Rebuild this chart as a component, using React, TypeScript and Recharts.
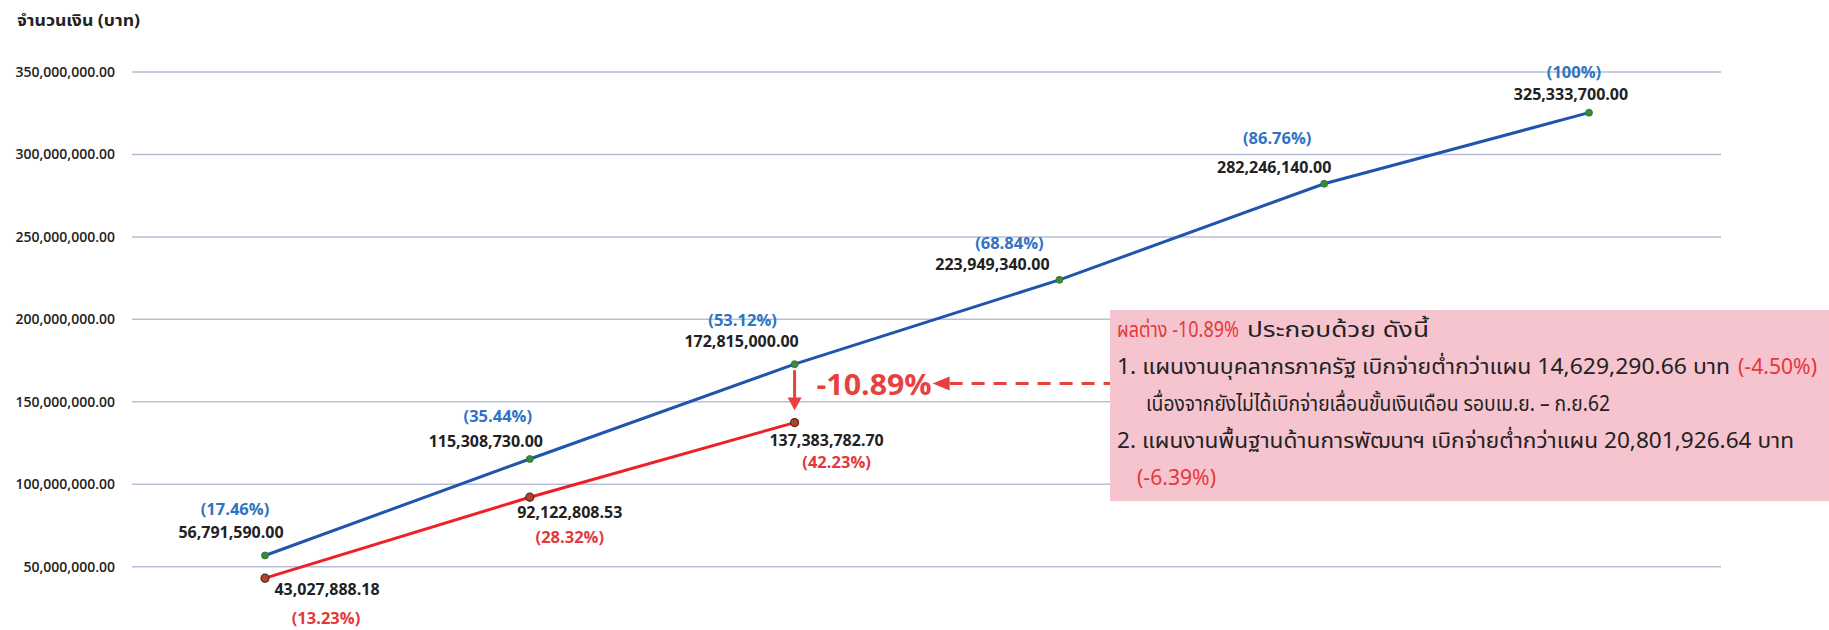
import React from 'react';
import { LineChart, Line, XAxis, YAxis, CartesianGrid, LabelList, ReferenceLine } from 'recharts';

const periods = ['1', '2', '3', '4', '5', '6'];
const planValues = [56791590.0, 115308730.0, 172815000.0, 223949340.0, 282246140.0, 325333700.0];
const planPercents = ['(17.46%)', '(35.44%)', '(53.12%)', '(68.84%)', '(86.76%)', '(100%)'];
const actualValues = [43027888.18, 92122808.53, 137383782.7];
const actualPercents = ['(13.23%)', '(28.32%)', '(42.23%)'];
const yTicks = [50000000, 100000000, 150000000, 200000000, 250000000, 300000000, 350000000];
const diffLabel = '-10.89%';

const data = periods.map((p, i) => ({
  period: p,
  plan: planValues[i],
  actual: i < actualValues.length ? actualValues[i] : null,
}));

// label layout offsets (px) relative to each point: [valueDx, valueDy, pctDx, pctDy]
const planLabelPos = [
  [-34, -23, -30, -47],
  [-44, -18, -32, -43],
  [-53, -23, -52, -45],
  [-67, -16, -50, -37],
  [-50, -17, -47, -46],
  [-18, -19, -15, -41],
];
const actualLabelPos = [
  [62, 11, 61, 39],
  [40, 15, 40, 39],
  [32, 17, 42, 39],
];

const FONT = "'Open Sans', 'Noto Sans', sans-serif";
const THAI = "'Noto Sans', 'Noto Sans Thai', 'Loma', 'Garuda', 'Norasi', sans-serif";
const BLUE = '#1f55ad';
const RED = '#ee2027';
const PCT_BLUE = '#2f73c2';
const PCT_RED = '#e5383b';
const ANN_RED = '#e8403f';
const BOX_LEFT = 1110;

const fmt = (v: number) =>
  v.toLocaleString('en-US', { minimumFractionDigits: 2, maximumFractionDigits: 2 });

const makeLabel = (pos: number[][], pcts: string[], pctColor: string) => (props: any) => {
  const { x, y, value, index } = props;
  if (value == null || x == null || y == null) return null;
  const o = pos[index];
  return (
    <g>
      <text x={x + o[0]} y={y + o[1]} textAnchor="middle" dominantBaseline="central"
        fontFamily={FONT} fontWeight={700} fontSize={16} fill="#222">{fmt(value)}</text>
      <text x={x + o[2]} y={y + o[3]} textAnchor="middle" dominantBaseline="central"
        fontFamily={FONT} fontWeight={700} fontSize={16.5} fill={pctColor}>{pcts[index]}</text>
    </g>
  );
};

const DiffArrow = (p: any) => {
  const { x1, y1, y2 } = p;
  const top = Math.min(y1, y2);
  const bottom = Math.max(y1, y2);
  const tip = bottom - 12;
  const ty = (top + bottom) / 2 - 10;
  const hx = x1 + 138;
  return (
    <g>
      <line x1={x1} y1={top + 6} x2={x1} y2={tip - 10} stroke={ANN_RED} strokeWidth={3} />
      <polygon points={`${x1 - 7},${tip - 13} ${x1 + 7},${tip - 13} ${x1},${tip}`} fill={ANN_RED} />
      <text x={x1 + 22} y={ty} dominantBaseline="central" fontFamily={FONT} fontWeight={700}
        fontSize={29} fill={ANN_RED} textLength={115} lengthAdjust="spacingAndGlyphs">{diffLabel}</text>
      <polygon points={`${hx},${ty} ${hx + 17},${ty - 7} ${hx + 17},${ty + 7}`} fill={ANN_RED} />
      <line x1={hx + 17} y1={ty} x2={BOX_LEFT} y2={ty} stroke={ANN_RED} strokeWidth={3}
        strokeDasharray="13 9" />
    </g>
  );
};

const PlanDot = (props: any) => {
  const { cx, cy } = props;
  if (cx == null || cy == null) return null;
  return <circle cx={cx} cy={cy} r={3.5} fill="#3a8c3a" stroke="#2c6e2c" strokeWidth={0.8} />;
};
const ActualDot = (props: any) => {
  const { cx, cy, value } = props;
  if (cx == null || cy == null || value == null) return null;
  return <circle cx={cx} cy={cy} r={4} fill="#b5402f" stroke="#4a2a20" strokeWidth={1.2} />;
};

const boxLines = [
  { y: 337, parts: [
    { t: 'ผลต่าง -10.89%', x: 1117, w: 122, c: PCT_RED },
    { t: 'ประกอบด้วย ดังนี้', x: 1247, w: 182, c: '#222' },
  ] },
  { y: 374, parts: [
    { t: '1. แผนงานบุคลากรภาครัฐ เบิกจ่ายต่ำกว่าแผน 14,629,290.66 บาท', x: 1117, w: 613, c: '#222' },
    { t: '(-4.50%)', x: 1738, w: 79, c: PCT_RED },
  ] },
  { y: 411, parts: [
    { t: 'เนื่องจากยังไม่ได้เบิกจ่ายเลื่อนขั้นเงินเดือน รอบเม.ย. – ก.ย.62', x: 1146, w: 464, c: '#222' },
  ] },
  { y: 448, parts: [
    { t: '2. แผนงานพื้นฐานด้านการพัฒนาฯ เบิกจ่ายต่ำกว่าแผน 20,801,926.64 บาท', x: 1117, w: 677, c: '#222' },
  ] },
  { y: 485, parts: [
    { t: '(-6.39%)', x: 1137, w: 79, c: PCT_RED },
  ] },
];

export default function App() {
  return (
    <div style={{ position: 'absolute', left: 0, top: 0, width: 1829, height: 630, background: '#fff', overflow: 'hidden' }}>
      <div style={{ position: 'absolute', left: 0, top: 0 }}>
        <LineChart width={1829} height={630} data={data} margin={{ top: 72, right: 108, bottom: 0, left: 0 }}>
          <CartesianGrid vertical={false} horizontalValues={yTicks} stroke="#b9bdd6" strokeWidth={1.5} />
          <XAxis dataKey="period" hide padding={{ left: 133, right: 132 }} />
          <YAxis type="number" domain={[11600000, 350000000]} ticks={yTicks} width={132}
            axisLine={false} tickLine={false} tickSize={0} tickMargin={17} interval={0}
            allowDataOverflow
            tickFormatter={(v: number) => fmt(v)}
            tick={{ fontFamily: FONT, fontWeight: 600, fontSize: 14, fill: '#222' }} />
          <Line dataKey="plan" stroke={BLUE} strokeWidth={3} isAnimationActive={false}
            dot={<PlanDot />} activeDot={false}>
            <LabelList dataKey="plan" content={makeLabel(planLabelPos, planPercents, PCT_BLUE)} />
          </Line>
          <Line dataKey="actual" stroke={RED} strokeWidth={3} isAnimationActive={false}
            dot={<ActualDot />} activeDot={false}>
            <LabelList dataKey="actual" content={makeLabel(actualLabelPos, actualPercents, PCT_RED)} />
          </Line>
          <ReferenceLine segment={[{ x: periods[2], y: planValues[2] }, { x: periods[2], y: actualValues[2] }]}
            shape={DiffArrow} ifOverflow="visible" />
        </LineChart>
      </div>
      <svg width={1829} height={630} style={{ position: 'absolute', left: 0, top: 0, pointerEvents: 'none' }}>
        <text x={17} y={26} fontFamily={THAI} fontWeight={700} fontSize={16} fill="#222"
          textLength={123} lengthAdjust="spacingAndGlyphs">จำนวนเงิน (บาท)</text>
        <rect x={BOX_LEFT} y={310} width={1829 - BOX_LEFT} height={191} fill="#f5c4cf" />
        {boxLines.map((ln, i) => (
          <g key={i}>
            {ln.parts.map((pt, j) => (
              <text key={j} x={pt.x} y={ln.y} fontFamily={THAI} fontSize={21} fill={pt.c}
                textLength={pt.w} lengthAdjust="spacingAndGlyphs">{pt.t}</text>
            ))}
          </g>
        ))}
      </svg>
    </div>
  );
}
